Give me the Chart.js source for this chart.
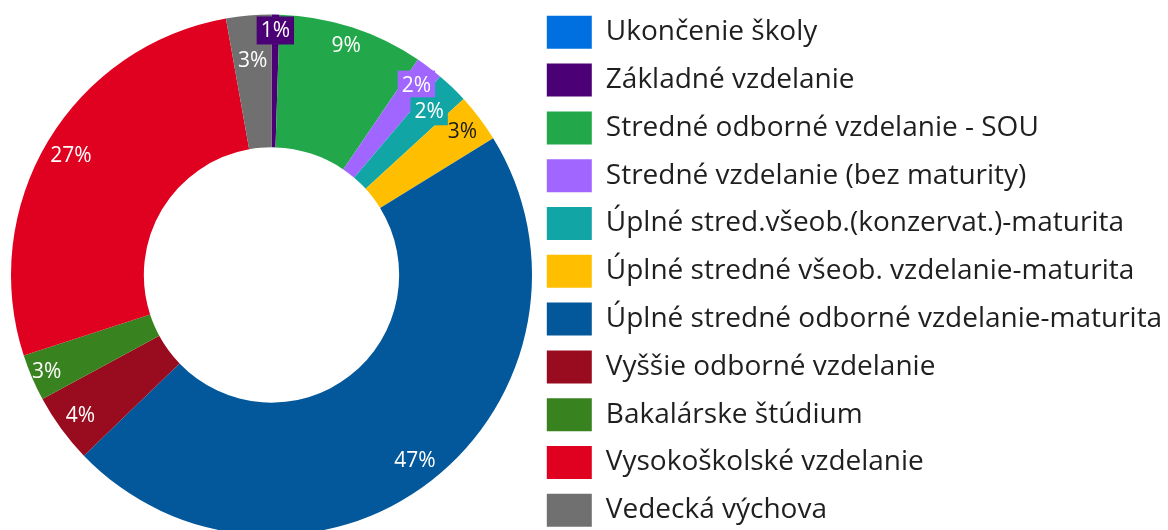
<!DOCTYPE html>
<html>
<head>
<meta charset="utf-8">
<script src="https://cdn.jsdelivr.net/npm/chart.js@4"></script>
<style>
  html, body { margin: 0; padding: 0; background: #fff; overflow: hidden; }
  #chartdiv { position: relative; width: 1168px; height: 549px; }
</style>
</head>
<body>
<div id="chartdiv"><canvas id="chart"></canvas></div>
<script>
const labels = [
  'Ukončenie školy',
  'Základné vzdelanie',
  'Stredné odborné vzdelanie - SOU',
  'Stredné vzdelanie (bez maturity)',
  'Úplné stred.všeob.(konzervat.)-maturita',
  'Úplné stredné všeob. vzdelanie-maturita',
  'Úplné stredné odborné vzdelanie-maturita',
  'Vyššie odborné vzdelanie',
  'Bakalárske štúdium',
  'Vysokoškolské vzdelanie',
  'Vedecká výchova'
]
// share of people, percent
const shares = [0, 0.5, 9, 1.7, 2.0, 3.0, 46.6, 4.3, 2.9, 27.2, 2.8]
const colors = [
  '#0070e0', '#4b0076', '#22a84a', '#a066ff', '#12a5a5', '#ffbf00',
  '#02589b', '#990b1e', '#38831f', '#e0001f', '#707070'
]

const FONT = "'Open Sans', 'Noto Sans', sans-serif"

// label look: small slices get a filled box, yellow gets dark text
const labelStyle = {
  radius: [0, 0.88, 0.86, 0.84, 0.75, 0.84, 0.80, 0.82, 0.88, 0.80, 0.66],
  boxed: [false, true, false, true, true, false, false, false, false, false, false],
  dark: [false, false, false, false, false, true, false, false, false, false, false]
}

const pctLabels = {
  id: 'pctLabels',
  afterDatasetsDraw(chart) {
    const ctx = chart.ctx
    const meta = chart.getDatasetMeta(0)
    const data = chart.data.datasets[0].data
    const total = data.reduce((a, b) => a + b, 0)
    ctx.save()
    ctx.font = '21px ' + FONT
    ctx.textAlign = 'center'
    ctx.textBaseline = 'middle'
    meta.data.forEach((arc, i) => {
      if (!data[i]) return
      const p = arc.getProps(['x', 'y', 'startAngle', 'endAngle', 'innerRadius', 'outerRadius'], true)
      const mid = (p.startAngle + p.endAngle) / 2
      const r = p.innerRadius + labelStyle.radius[i] * (p.outerRadius - p.innerRadius)
      const x = p.x + Math.cos(mid) * r
      const y = p.y + Math.sin(mid) * r
      const text = Math.round(data[i] / total * 100) + '%'
      if (labelStyle.boxed[i]) {
        const w = ctx.measureText(text).width + 8
        ctx.fillStyle = colors[i]
        ctx.fillRect(x - w / 2, y - 14, w, 28)
      }
      ctx.fillStyle = labelStyle.dark[i] ? '#1a1a1a' : '#ffffff'
      ctx.fillText(text, x, y + 1)
    })
    ctx.restore()
  }
}

// legend sits right next to the ring, wider than chart.js would allow by default
const legendFit = {
  id: 'legendFit',
  beforeLayout(chart) {
    const legend = chart.legend
    if (!legend || legend._patched) return
    const orig = legend.fit
    legend.fit = function () {
      orig.call(this)
      this.width = 636
    }
    legend._patched = true
  }
}

const data = {
  labels: labels,
  datasets: [{
    data: shares,
    backgroundColor: colors,
    borderWidth: 0,
    hoverOffset: 0
  }]
}

const config = {
  type: 'doughnut',
  data: data,
  options: {
    responsive: true,
    maintainAspectRatio: false,
    animation: false,
    cutout: '49%',
    layout: { padding: { left: 11, top: 1, right: 0, bottom: 0 } },
    plugins: {
      tooltip: { enabled: false },
      legend: {
        position: 'right',
        align: 'start',
        labels: {
          boxWidth: 45,
          boxHeight: 33,
          padding: 14.8,
          color: '#1f1f1f',
          font: { family: FONT, size: 28 }
        }
      }
    }
  },
  plugins: [pctLabels, legendFit]
}

const thechart = document.getElementById('chart').getContext('2d')
const mychart = new Chart(thechart, config)
</script>
</body>
</html>
